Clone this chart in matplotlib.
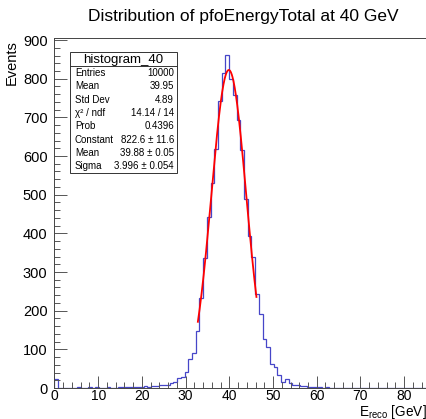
import numpy as np
import matplotlib
matplotlib.use("Agg")
import matplotlib.pyplot as plt
from matplotlib.ticker import MultipleLocator

plt.rcParams['font.family'] = ['Liberation Sans', 'DejaVu Sans']
plt.rcParams['mathtext.fontset'] = 'custom'
plt.rcParams['mathtext.rm'] = 'Liberation Sans'
plt.rcParams['mathtext.it'] = 'Liberation Sans:italic'

# histogram_40: 100 bins from 0 to 85 GeV
x_min, x_max, n_bins = 0.0, 85.0, 100
counts = [
    22, 1, 0, 1, 1, 0, 2, 1, 1, 2,
    1, 2, 1, 1, 2, 1, 1, 2, 2, 3,
    2, 3, 2, 3, 4, 3, 5, 6, 7, 8,
    9, 13, 15, 25, 29, 41, 75, 90, 147, 232,
    336, 443, 531, 619, 742, 816, 861, 798, 759, 693,
    615, 490, 392, 339, 243, 192, 128, 105, 61, 55,
    34, 16, 22, 12, 8, 7, 5, 4, 3, 2,
    2, 3, 1, 2, 1, 0, 1, 0, 0, 1,
    0, 0, 0, 0, 0, 0, 0, 0, 0, 0,
    0, 0, 0, 0, 0, 0, 0, 0, 0, 0,
]

# gaussian fit result
fit_const, fit_mean, fit_sigma = 822.6, 39.88, 3.996
fit_lo, fit_hi = 32.8, 46.2

stat_labels = ["Entries", "Mean", "Std Dev", "χ² / ndf", "Prob",
               "Constant", "Mean", "Sigma"]
stat_values = ["10000", "39.95", "4.89", "14.14 / 14", "0.4396",
               "822.6 ± 11.6", "39.88 ± 0.05", "3.996 ± 0.054"]

W, H = 427, 419
fig = plt.figure(figsize=(W / 100, H / 100), dpi=100)
fig.patch.set_facecolor('white')
ax = fig.add_axes([54.5 / W, 31 / H, 371.5 / W, 349.5 / H])

edges = np.linspace(x_min, x_max, n_bins + 1)
ax.stairs(counts, edges, color='#4646c8', lw=0.9)

xf = np.linspace(fit_lo, fit_hi, 300)
yf = fit_const * np.exp(-0.5 * ((xf - fit_mean) / fit_sigma) ** 2)
ax.plot(xf, yf, color='#ff0000', lw=1.3)

ax.set_xlim(x_min, x_max)
ax.set_ylim(0, 904)
ax.xaxis.set_major_locator(MultipleLocator(10))
ax.xaxis.set_minor_locator(MultipleLocator(2))
ax.yaxis.set_major_locator(MultipleLocator(100))
ax.yaxis.set_minor_locator(MultipleLocator(20))
ax.tick_params(which='both', direction='in', top=False, right=False,
               width=0.7, color='#555555', labelsize=10.5)
ax.tick_params(which='major', length=9)
ax.tick_params(which='minor', length=4.5)
ax.tick_params(axis='x', pad=0.5, labelsize=10)
ax.tick_params(axis='y', pad=5)
for s in ax.spines.values():
    s.set_linewidth(0.7)
    s.set_color('#444444')

fig.text(243 / W, 1 - 16 / H, "Distribution of pfoEnergyTotal at 40 GeV",
         ha='center', va='center', fontsize=12.5)
fig.text(427 / W, 1 - 415.5 / H, r"E$_{\mathrm{reco}}$ [GeV]",
         ha='right', va='baseline', fontsize=9.8)
fig.text(12 / W, 1 - 40 / H, "Events", rotation=90,
         ha='center', va='top', fontsize=10.5)

# stats box
bx0, by0, bx1, by1 = 70, 52.5, 177, 173
box = plt.Rectangle((bx0 / W, 1 - by1 / H), (bx1 - bx0) / W, (by1 - by0) / H,
                    transform=fig.transFigure, facecolor='white',
                    edgecolor='#333333', lw=0.7, zorder=5)
fig.add_artist(box)
sep_y = 1 - 66.5 / H
fig.add_artist(plt.Line2D([bx0 / W, bx1 / W], [sep_y, sep_y],
                          transform=fig.transFigure, color='#333333',
                          lw=0.7, zorder=6))
fig.text((bx0 + bx1) / 2 / W, 1 - 59.5 / H, "histogram_40",
         ha='center', va='center', fontsize=9.5, zorder=7)
row_h = (173 - 66.5) / len(stat_labels)
for i, (lab, val) in enumerate(zip(stat_labels, stat_values)):
    yy = 1 - (66.5 + row_h * (i + 0.5)) / H
    fig.text(75 / W, yy, lab, ha='left', va='center', fontsize=7, zorder=7)
    fig.text(174 / W, yy, val, ha='right', va='center', fontsize=7, zorder=7)

fig.savefig("out.png", dpi=100)
